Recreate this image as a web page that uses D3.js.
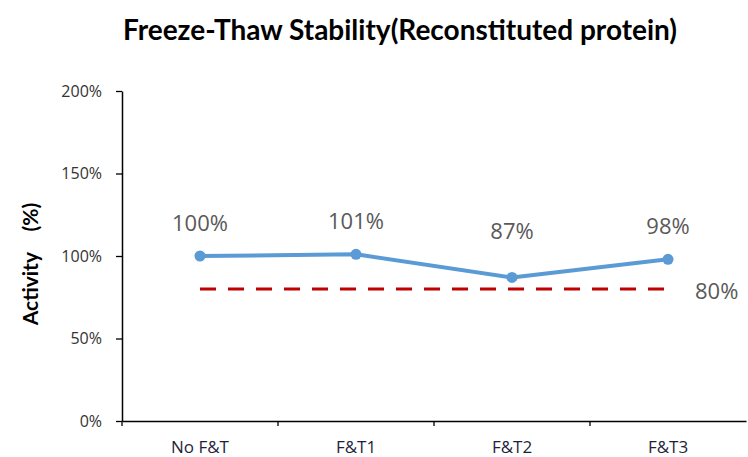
<!DOCTYPE html>
<html>
<head>
<meta charset="utf-8">
<script src="https://cdn.jsdelivr.net/npm/d3@7"></script>
<style>
  body { margin: 0; background: #fff; }
  svg { display: block; }
</style>
</head>
<body>
<div id="chart"></div>
<script>
// chart data
let categories = ["No F&T", "F&T1", "F&T2", "F&T3"]
let activity = [100, 101, 87, 98]
let threshold = 80
let yTicks = [0, 50, 100, 150, 200]
let titleText = "Freeze-Thaw Stability(Reconstituted protein)"
let yLabel = "Activity\u3000(%)"

let width = 748,
    height = 457
let margin = { top: 91, right: 2, bottom: 36, left: 122 }

let svg = d3.select("#chart").append("svg")
    .attr("width", width)
    .attr("height", height)

let xScale = d3.scaleBand()
    .domain(categories)
    .range([margin.left, width - margin.right])

let yScale = d3.scaleLinear()
    .domain([0, 200])
    .range([height - margin.bottom, margin.top])

let cx = function(d) { return xScale(d) + xScale.bandwidth() / 2 }

// title
svg.append("text")
    .attr("x", 400)
    .attr("y", 40)
    .attr("text-anchor", "middle")
    .style("font-family", "Lato, 'Open Sans', sans-serif")
    .style("font-weight", "bold")
    .style("font-size", "28px")
    .style("fill", "#000")
    .text(titleText)

// y axis
let yAxis = svg.append("g")
    .attr("transform", "translate(" + margin.left + ",0)")
    .call(d3.axisLeft(yScale).tickValues(yTicks).tickSize(6).tickSizeOuter(0)
        .tickFormat(function(d) { return d + "%" }))
yAxis.select(".domain").attr("stroke", "#000").attr("stroke-width", 1.5)
yAxis.selectAll(".tick line").attr("stroke", "#000").attr("stroke-width", 1.3)
yAxis.selectAll(".tick text")
    .attr("x", -20)
    .style("font-family", "'Open Sans', sans-serif")
    .style("font-size", "16px")
    .style("fill", "#333")

// x axis
let xAxis = svg.append("g")
    .attr("transform", "translate(0," + (height - margin.bottom) + ")")
    .call(d3.axisBottom(xScale).tickSize(0).tickSizeOuter(0))
xAxis.select(".domain").attr("stroke", "#000").attr("stroke-width", 1.5)
xAxis.selectAll(".tick text")
    .attr("y", 20)
    .style("font-family", "'Open Sans', sans-serif")
    .style("font-size", "17px")
    .style("fill", "#1f1f3a")
// small ticks between categories
xAxis.selectAll(".sep")
    .data(categories.slice(1))
    .enter()
    .append("line")
    .attr("x1", function(d) { return xScale(d) })
    .attr("x2", function(d) { return xScale(d) })
    .attr("y1", 0)
    .attr("y2", 5)
    .attr("stroke", "#000")
    .attr("stroke-width", 1.3)
xAxis.append("line")
    .attr("x1", margin.left).attr("x2", margin.left)
    .attr("y1", 0).attr("y2", 5)
    .attr("stroke", "#000").attr("stroke-width", 1.3)

// y axis title
svg.append("text")
    .attr("transform", "translate(38," + 264 + ") rotate(-90)")
    .attr("text-anchor", "middle")
    .style("font-family", "Lato, 'Noto Sans CJK SC', sans-serif")
    .style("font-weight", "bold")
    .style("font-size", "21px")
    .style("fill", "#000")
    .text(yLabel)

// threshold line
svg.append("line")
    .attr("x1", cx(categories[0]))
    .attr("x2", cx(categories[categories.length - 1]))
    .attr("y1", yScale(threshold))
    .attr("y2", yScale(threshold))
    .attr("stroke", "#c00000")
    .attr("stroke-width", 3)
    .attr("stroke-dasharray", "16,12")

svg.append("text")
    .attr("x", cx(categories[categories.length - 1]) + 27)
    .attr("y", yScale(threshold) + 10)
    .style("font-family", "'Open Sans', sans-serif")
    .style("font-size", "22px")
    .style("fill", "#595959")
    .text(threshold + "%")

// activity line
let line = d3.line()
    .x(function(d, i) { return cx(categories[i]) })
    .y(function(d) { return yScale(d) })

svg.append("path")
    .datum(activity)
    .attr("fill", "none")
    .attr("stroke", "#5b9bd5")
    .attr("stroke-width", 4)
    .attr("stroke-linejoin", "round")
    .attr("d", line)

svg.selectAll(".dot")
    .data(activity)
    .enter()
    .append("circle")
    .attr("class", "dot")
    .attr("cx", function(d, i) { return cx(categories[i]) })
    .attr("cy", function(d) { return yScale(d) })
    .attr("r", 5.5)
    .attr("fill", "#5b9bd5")

// data labels, kept clear of the threshold line
svg.selectAll(".lbl")
    .data(activity)
    .enter()
    .append("text")
    .attr("class", "lbl")
    .attr("x", function(d, i) { return cx(categories[i]) })
    .attr("y", function(d) { return Math.min(yScale(d), yScale(threshold) - 25) - 25 })
    .attr("text-anchor", "middle")
    .style("font-family", "'Open Sans', sans-serif")
    .style("font-size", "22px")
    .style("fill", "#595959")
    .text(function(d) { return d + "%" })
</script>
</body>
</html>
